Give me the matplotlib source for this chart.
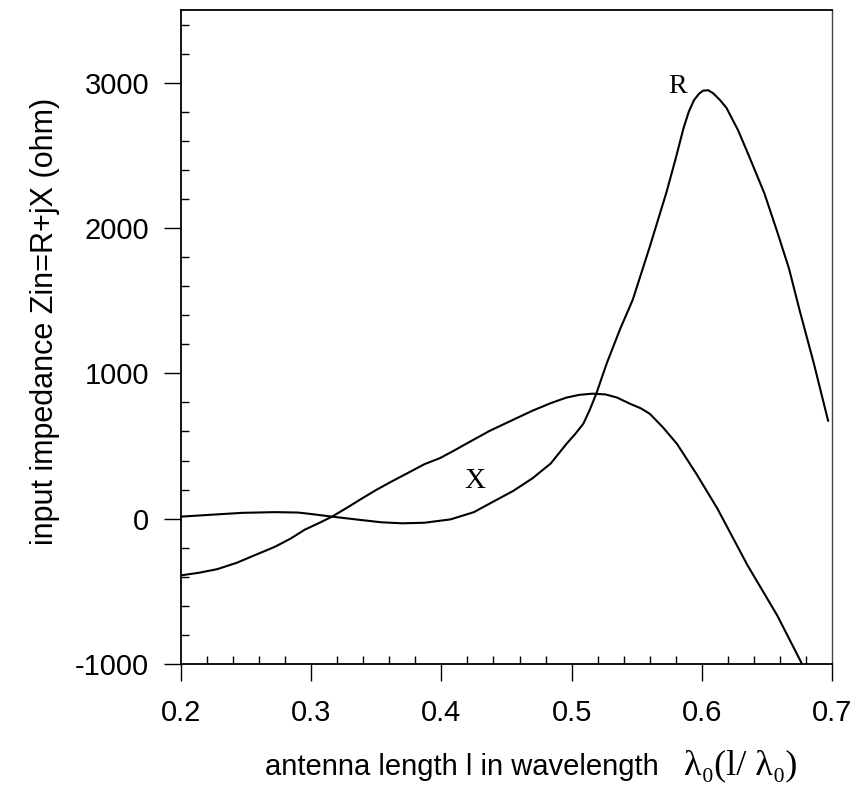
import matplotlib
matplotlib.use("Agg")
import matplotlib.pyplot as plt
from matplotlib.ticker import MultipleLocator

# ---- data ----
x_length = [0.200, 0.214, 0.228, 0.243, 0.257, 0.272, 0.284, 0.295, 0.306, 0.316,
            0.328, 0.339, 0.350, 0.362, 0.375, 0.387, 0.399, 0.410, 0.420, 0.437,
            0.455, 0.470, 0.484, 0.496, 0.506, 0.516, 0.526, 0.535, 0.545, 0.553,
            0.560, 0.570, 0.581, 0.596, 0.612, 0.635, 0.658, 0.677]
reactance_X = [-390, -372, -347, -303, -250, -194, -138, -76, -30, 14,
               78, 139, 198, 257, 318, 375, 417, 470, 520, 604,
               680, 743, 795, 833, 852, 860, 855, 833, 790, 760,
               722, 630, 514, 306, 69, -319, -667, -1000]

r_length = [0.200, 0.225, 0.247, 0.272, 0.290, 0.300, 0.316, 0.336, 0.354, 0.370,
            0.387, 0.407, 0.425, 0.440, 0.455, 0.470, 0.484, 0.496, 0.503, 0.509,
            0.514, 0.519, 0.527, 0.537, 0.547, 0.560, 0.573, 0.580, 0.586, 0.590,
            0.594, 0.598, 0.601, 0.605, 0.609, 0.614, 0.619, 0.628, 0.637, 0.648,
            0.658, 0.667, 0.675, 0.686, 0.697]
resistance_R = [14, 28, 40, 45, 42, 32, 14, -7, -25, -32,
                -28, -5, 45, 118, 190, 278, 380, 514, 585, 653,
                750, 861, 1069, 1299, 1507, 1870, 2250, 2480, 2688, 2800,
                2880, 2925, 2945, 2948, 2925, 2880, 2826, 2670, 2479, 2240,
                1972, 1720, 1438, 1070, 674]

x_ticks = [0.2, 0.3, 0.4, 0.5, 0.6, 0.7]
y_ticks = [-1000, 0, 1000, 2000, 3000]

plt.rcParams['font.family'] = ['Liberation Sans', 'DejaVu Sans']

W, H = 857, 792
fig = plt.figure(figsize=(W / 100, H / 100), dpi=100)
ax = fig.add_axes([181 / W, 1 - 664 / H, (832 - 181) / W, (664 - 10) / H])

ax.plot(x_length, reactance_X, color='black', lw=1.5)
ax.plot(r_length, resistance_R, color='black', lw=1.5)

ax.set_xlim(0.2, 0.7)
ax.set_ylim(-1000, 3500)
ax.set_xticks(x_ticks)
ax.set_xticklabels([f"{v:.1f}" for v in x_ticks])
ax.set_yticks(y_ticks)
ax.set_yticklabels([str(v) for v in y_ticks])
ax.xaxis.set_minor_locator(MultipleLocator(0.02))
ax.yaxis.set_minor_locator(MultipleLocator(200))

ax.tick_params(which='major', direction='out', length=12, width=1.0,
               labelsize=21, colors='black')
ax.tick_params(axis='x', which='major', pad=13)
ax.tick_params(axis='y', which='major', pad=11)
ax.tick_params(which='minor', direction='in', length=6, width=1.0)
ax.tick_params(top=False, right=False, which='both')

for s in ['left', 'bottom', 'top']:
    ax.spines[s].set_linewidth(1.3)
ax.spines['right'].set_linewidth(1.0)
ax.spines['right'].set_color('#444444')

ax.set_ylabel("input impedance Zin=R+jX (ohm)", fontsize=22)
ax.yaxis.set_label_coords((60 - 181) / (832 - 181), (664 - 321) / (664 - 10))

# curve labels
ax.text(0.581, 2975, "R", family='Liberation Serif', fontsize=20,
        ha='center', va='center')
ax.text(0.426, 257, "X", family='Liberation Serif', fontsize=21,
        ha='center', va='center')

# x-axis label (two parts: sans text and serif lambda part)
fig.text(265 / W, 1 - 767 / H, "antenna length l in wavelength",
         fontsize=21, ha='left', va='center')
fig.text(684 / W, 1 - 766 / H, "λ₀(l/ λ₀)", family=['Liberation Serif', 'DejaVu Serif'],
         fontsize=26, ha='left', va='center')

fig.savefig("out.png", dpi=100)
